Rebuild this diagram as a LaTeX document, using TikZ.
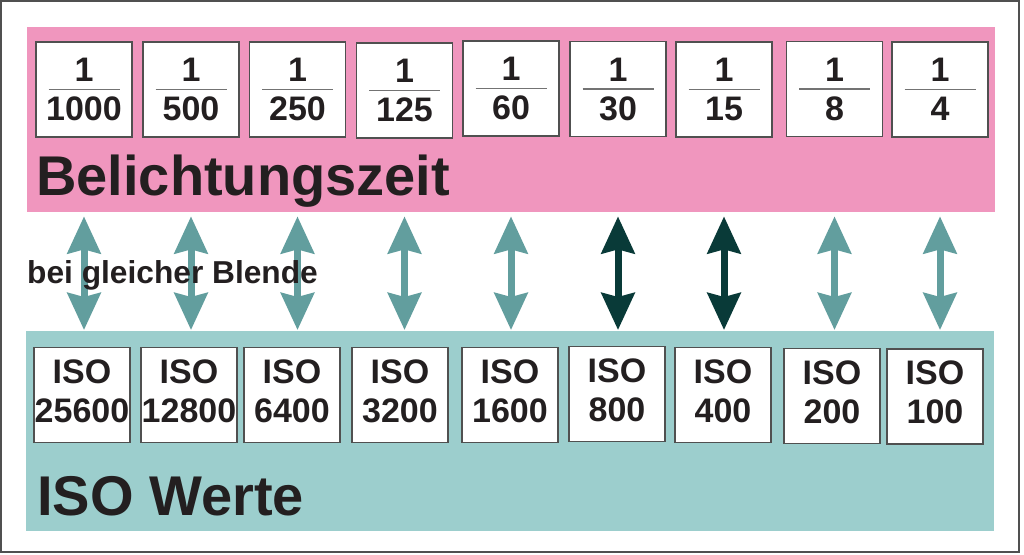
\documentclass[tikz,border=0pt]{standalone}
\usepackage{fontspec}
\setmainfont{Liberation Sans}
\usetikzlibrary{arrows.meta}
\definecolor{rosa}{RGB}{240,150,190}
\definecolor{tuerkis}{RGB}{156,206,205}
\definecolor{pfeilhell}{RGB}{98,158,158}
\definecolor{pfeildunkel}{RGB}{9,58,56}
\definecolor{schrift}{RGB}{35,31,32}
\definecolor{rahmen}{RGB}{80,80,80}
\tikzset{
  kasten/.style={draw=rahmen, line width=1.2pt, fill=white, minimum width=96pt, minimum height=95pt, inner sep=0pt, align=center, text=schrift, font=\fontsize{34}{39}\selectfont\bfseries},
  zeit/.style={kasten, path picture={\draw[rahmen!80, line width=1.2pt] ([xshift=-35.5pt]path picture bounding box.center) -- ([xshift=35.5pt]path picture bounding box.center);}},
  iso/.style={kasten, font=\fontsize{34}{39}\selectfont\bfseries, text depth=8pt},
  band/.style={anchor=north west, inner sep=0pt, minimum width=968pt, minimum height=185pt},
  titel/.style={anchor=base west, inner sep=0pt, text=schrift, font=\fontsize{56}{60}\selectfont\bfseries},
  pfeil/.style={line width=7pt, draw=pfeilhell, {Stealth[length=37pt,width=33pt,inset=4pt]}-{Stealth[length=37pt,width=33pt,inset=4pt]}, shorten <=4pt, shorten >=1pt},
}
\begin{document}
\begin{tikzpicture}[x=1pt,y=-1pt]
\useasboundingbox (0,0) rectangle (1024,554);
\fill[white] (0,0) rectangle (1024,554);
\draw[rahmen, line width=1.5pt] (1,1) rectangle (1019,552);
\node[band, fill=rosa] (zeitband) at (27,27) {};
\node[band, fill=tuerkis, minimum height=200pt] (isoband) at (26,331) {};
\node[zeit] (z1) at (84,89.5) {1\\1000};
\node[zeit] (z2) at (191,89.5) {1\\500};
\node[zeit] (z3) at (297.5,89.5) {1\\250};
\node[zeit] (z4) at (404.5,90.5) {1\\125};
\node[zeit] (z5) at (511,88.5) {1\\60};
\node[zeit] (z6) at (618,89) {1\\30};
\node[zeit] (z7) at (724,89.5) {1\\15};
\node[zeit] (z8) at (834.5,89) {1\\8};
\node[zeit] (z9) at (940,89.5) {1\\4};
\node[titel] (zeittitel) at (36,195) {Belichtungszeit};
\node[iso] (i1) at (82,395) {ISO\\25600};
\node[iso] (i2) at (189,395) {ISO\\12800};
\node[iso] (i3) at (292,395) {ISO\\6400};
\node[iso] (i4) at (400,395) {ISO\\3200};
\node[iso] (i5) at (510,395) {ISO\\1600};
\node[iso] (i6) at (617,394) {ISO\\800};
\node[iso] (i7) at (723,395) {ISO\\400};
\node[iso] (i8) at (832,396) {ISO\\200};
\node[iso] (i9) at (935,396.5) {ISO\\100};
\node[titel] (isotitel) at (37,515) {ISO Werte};
\draw[pfeil] (z1 |- zeitband.south) -- (z1 |- isoband.north);
\draw[pfeil] (z2 |- zeitband.south) -- (z2 |- isoband.north);
\draw[pfeil] (z3 |- zeitband.south) -- (z3 |- isoband.north);
\draw[pfeil] (z4 |- zeitband.south) -- (z4 |- isoband.north);
\draw[pfeil] (z5 |- zeitband.south) -- (z5 |- isoband.north);
\draw[pfeil, draw=pfeildunkel] (z6 |- zeitband.south) -- (z6 |- isoband.north);
\draw[pfeil, draw=pfeildunkel] (z7 |- zeitband.south) -- (z7 |- isoband.north);
\draw[pfeil] (z8 |- zeitband.south) -- (z8 |- isoband.north);
\draw[pfeil] (z9 |- zeitband.south) -- (z9 |- isoband.north);
\node[anchor=base west, inner sep=0pt, text=schrift, font=\fontsize{31.7}{36}\selectfont\bfseries] (blende) at (27,283) {bei gleicher Blende};
\end{tikzpicture}
\end{document}
